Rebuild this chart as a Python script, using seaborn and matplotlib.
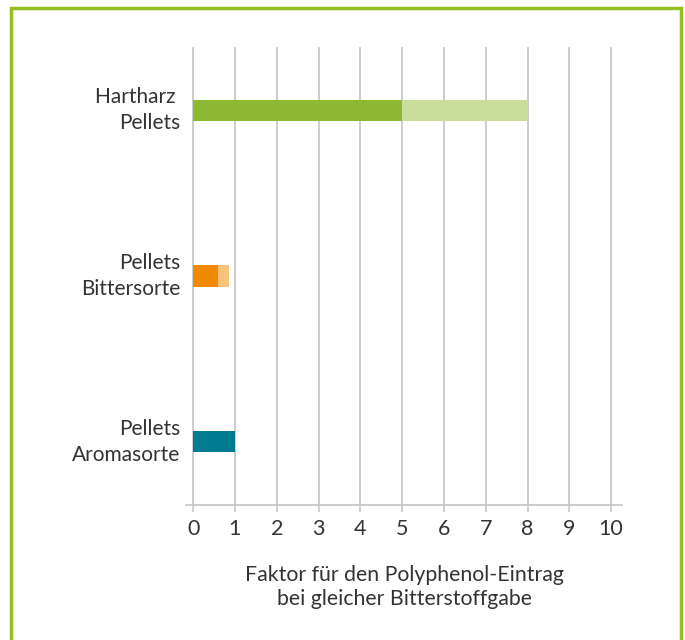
import matplotlib
matplotlib.use("Agg")
import matplotlib.pyplot as plt
import matplotlib.patches as mpatches
import seaborn as sns
import pandas as pd

categories = ["Hartharz \nPellets", "Pellets\nBittersorte", "Pellets\nAromasorte"]
base_values = [5.0, 0.6, 1.0]
upper_values = [8.0, 0.85, 1.0]
dark_colors = ["#8db833", "#f08a00", "#007b8f"]
light_colors = ["#c9de9a", "#f9c37e", "#007b8f"]
x_ticks = list(range(0, 11))
x_label = "Faktor für den Polyphenol-Eintrag\nbei gleicher Bitterstoffgabe"

sns.set_theme(style="white")
plt.rcParams["font.family"] = ["Lato", "DejaVu Sans"]
text_color = "#333333"
grid_color = "#c8c8c8"

df = pd.DataFrame({"cat": categories, "base": base_values, "upper": upper_values})

fig = plt.figure(figsize=(6.85, 6.4), dpi=100)
ax = fig.add_axes([186 / 685, 1 - 505 / 640, 436 / 685, 458 / 640])

# light (upper range) bars first, then dark base bars on top
sns.barplot(data=df, y="cat", x="upper", hue="cat", palette=light_colors,
            orient="h", width=0.127, legend=False, ax=ax, saturation=1, linewidth=0)
sns.barplot(data=df, y="cat", x="base", hue="cat", palette=dark_colors,
            orient="h", width=0.127, legend=False, ax=ax, saturation=1, linewidth=0)

ax.set_xlim(-0.17, 10.26)
ax.set_ylim(2.38, -0.38)
ax.set_xticks(x_ticks)
ax.set_xticklabels([str(t) for t in x_ticks], fontsize=15.5, color=text_color)
ax.tick_params(axis="x", length=5, width=1.2, color=grid_color, pad=5, bottom=True)
ax.tick_params(axis="y", length=0, pad=4, labelsize=15, labelcolor=text_color)
for lbl in ax.get_yticklabels():
    lbl.set_horizontalalignment("right")
    lbl.set_verticalalignment("center")
    lbl.set_linespacing(1.33)

for t in x_ticks:
    ax.axvline(t, color=grid_color, lw=1.3, zorder=0)

for s in ["top", "right", "left"]:
    ax.spines[s].set_visible(False)
ax.spines["bottom"].set_color(grid_color)
ax.spines["bottom"].set_linewidth(1.3)

ax.set_ylabel("")
ax.set_xlabel(x_label, fontsize=15.3, color=text_color, labelpad=19, linespacing=1.25)

# green frame around the chart
frame = mpatches.Rectangle((11 / 685, -0.05), 670 / 685, 1.05 - 8 / 640,
                           transform=fig.transFigure, fill=False,
                           edgecolor="#94c11f", lw=2.5, clip_on=False)
fig.patches.append(frame)

fig.savefig("out.png", dpi=100)
